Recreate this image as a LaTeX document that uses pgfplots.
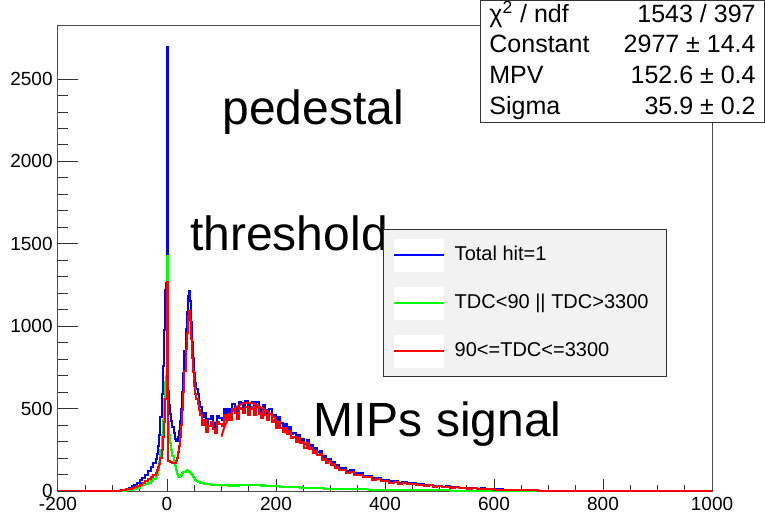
\documentclass[border=0pt]{standalone}
\usepackage{fontspec}
\setmainfont{Liberation Sans}
\usepackage{pgfplots}
\usepackage{pgfplotstable}
\pgfplotsset{compat=1.18}

\pgfplotstableread{
x g r b
-200 0 0 0
-90 1 2 3
-85 2 4 6
-80 3 6 9
-75 5 10 15
-70 7 14 21
-65 10 18 28
-60 14 22 36
-55 20 28 48
-50 28 36 64
-45 34 46 80
-40 42 58 100
-35 50 72 122
-30 58 88 146
-25 70 100 170
-20 85 110 195
-18 100 125 225
-16 130 145 275
-14 175 165 340
-12 250 200 450
-10 340 250 590
-8 430 330 760
-6 560 420 980
-4 660 560 1220
-2 700 560 1260
0 1426 1270 2696
2 420 185 605
4 340 180 520
6 290 176 466
8 250 175 425
10 215 172 387
12 180 170 350
14 150 168 318
16 125 180 305
18 105 200 305
20 92 235 327
22 88 275 363
24 92 330 422
26 100 400 500
28 108 490 598
30 115 600 715
32 118 730 848
34 122 860 982
36 126 960 1086
38 122 1060 1182
40 118 1095 1213
42 112 1040 1152
44 104 920 1024
46 95 810 905
48 85 720 805
50 76 640 716
52 68 590 658
54 62 560 622
56 57 530 587
58 53 490 543
60 50 460 510
64 47 400 447
68 44 430 474
72 42 360 402
76 41 395 436
80 38 418 456
84 39 375 414
88 36 354 390
92 37 420 457
96 35 408 443
100 36 393 429
104 34 463 497
108 35 430 465
112 33 465 498
116 34 430 464
120 32 495 527
124 35 473 508
128 33 437 470
132 34 506 540
136 36 500 536
140 35 472 507
144 37 512 549
148 36 460 496
152 38 499 537
156 35 507 542
160 36 463 499
164 34 509 543
168 35 469 504
172 33 443 476
176 34 486 520
180 32 461 493
184 31 432 463
188 32 467 499
192 30 417 447
196 29 431 460
200 28 385 413
204 29 419 448
208 27 383 410
212 27 357 384
216 26 381 407
220 25 346 371
224 26 365 391
228 24 320 344
232 25 330 355
236 23 295 318
240 22 320 342
244 21 291 312
248 20 297 317
252 21 264 285
256 19 292 311
260 18 255 273
264 19 260 279
268 17 230 247
272 18 245 263
276 17 220 237
280 16 225 241
284 16 190 206
288 15 195 210
292 15 171 186
296 14 182 196
300 14 158 172
304 13 163 176
308 13 139 152
312 12 145 157
316 12 128 140
320 12 126 138
328 11 110 121
336 11 114 125
344 10 97 107
352 10 99 109
360 10 83 93
368 9 84 93
376 9 69 78
384 8 71 79
392 8 60 68
400 8 61 69
408 7 51 58
416 7 52 59
424 7 44 51
432 6 48 54
440 6 40 46
448 6 42 48
456 5 35 40
464 5 38 43
472 5 31 36
480 5 34 39
488 4 27 31
496 4 28 32
504 4 22 26
512 4 25 29
520 3 20 23
528 3 22 25
536 3 17 20
544 3 18 21
552 3 14 17
560 2 17 19
568 2 13 15
576 2 14 16
584 2 10 12
592 2 12 14
600 2 9 11
608 1 9 10
616 1 8 9
624 1 7 8
632 1 7 8
640 1 6 7
648 1 5 6
656 0 5 5
664 0 4 4
672 0 4 4
680 0 3 3
688 0 3 3
696 0 2 2
704 0 2 2
712 0 1 1
720 0 0 0
1000 0 0 0
}\hist

\begin{document}
\begin{tikzpicture}
\useasboundingbox (-29pt,-12pt) rectangle (353.5pt,245.5pt);
\begin{axis}[
  at={(0pt,0pt)}, anchor=south west,
  scale only axis, width=327pt, height=232.5pt,
  xmin=-200, xmax=1000, ymin=0, ymax=2822,
  xtick={-200,0,...,1000}, minor x tick num=3,
  ytick={0,500,...,2500}, minor y tick num=4,
  xtick pos=bottom, ytick pos=left,
  tick align=inside,
  major tick length=6pt, minor tick length=3pt,
  tick style={black!80, line width=0.5pt},
  axis line style={black!70, line width=0.5pt},
  ticklabel style={font=\fontsize{9.5}{11}\selectfont},
  /pgf/number format/assume math mode=true,
  /pgf/number format/1000 sep={},
  xticklabel style={inner sep=0pt, yshift=-3pt, anchor=north},
  yticklabel style={inner sep=0pt, xshift=-2.5pt, anchor=east},
  legend style={at={(0.497,0.5634)}, anchor=north west,
    fill=black!5, draw=black!80, line width=0.5pt,
    inner xsep=5pt, inner ysep=4.5pt, row sep=7.5pt,
    font=\fontsize{10}{12}\selectfont,
    nodes={inner sep=0pt}},
  legend cell align=left,
  legend image code/.code={
    \fill[white,draw=none] (0pt,-8.25pt) rectangle (25pt,8.25pt);
    \draw[line width=0.6pt] (0pt,0pt) -- (25pt,0pt);
  },
]
\addplot[const plot, blue, line width=1pt] table[x=x,y=b]{\hist};
\addlegendentry{\hspace*{5pt}Total hit=1}
\addplot[const plot, green, line width=1pt] table[x=x,y=g]{\hist};
\addlegendentry{\hspace*{5pt}TDC<90 || TDC>3300\hspace*{4pt}}
\addplot[const plot, red, line width=1pt] table[x=x,y=r]{\hist};
\addlegendentry{\hspace*{5pt}90<=TDC<=3300}
\addplot[red, line width=1pt, smooth, forget plot] coordinates {
(100,330) (105,385) (110,425) (115,458) (120,482) (125,500) (130,514)
(135,525) (140,532) (145,536) (150,536) (155,534) (160,529) (165,522)
(170,513) (175,503) (180,492) (185,480) (190,467) (195,454) (200,440)};
\node[anchor=base west, inner sep=0pt, font=\fontsize{24}{28}\selectfont] at (axis cs:101,2227) {pedestal};
\node[anchor=base west, inner sep=0pt, font=\fontsize{24}{28}\selectfont] at (axis cs:42,1462) {threshold};
\node[anchor=base west, inner sep=0pt, font=\fontsize{24}{28}\selectfont] at (axis cs:268,328) {MIPs signal};
\end{axis}
\begin{axis}[
  at={(0pt,0pt)}, anchor=south west,
  scale only axis, width=327pt, height=232.5pt,
  xmin=-200, xmax=1000, ymin=0, ymax=2822,
  axis line style={draw=none},
  xtick=\empty,
  ytick={0,500,...,2500}, minor y tick num=4,
  yticklabels={},
  yticklabel style={opacity=0},
  ytick pos=left, tick align=inside,
  major tick length=10pt, minor tick length=5pt,
  tick style={black!80, line width=0.5pt},
]
\end{axis}
\draw[black!80, line width=0.5pt, fill=white] (211pt,184pt) rectangle (353pt,245pt);
\begin{scope}[every node/.style={inner sep=0pt, font=\fontsize{12.5}{14}\selectfont}]
\node[anchor=mid west] at (215.5pt,237pt) {χ\textsuperscript{2} / ndf};
\node[anchor=mid east] at (349pt,237pt) {1543 / 397};
\node[anchor=mid west] at (215.5pt,222pt) {Constant};
\node[anchor=mid east] at (349pt,222pt) {2977 ± 14.4};
\node[anchor=mid west] at (215.5pt,206.5pt) {MPV};
\node[anchor=mid east] at (349pt,206.5pt) {152.6 ± 0.4};
\node[anchor=mid west] at (215.5pt,191pt) {Sigma};
\node[anchor=mid east] at (349pt,191pt) {35.9 ± 0.2};
\end{scope}
\end{tikzpicture}
\end{document}
